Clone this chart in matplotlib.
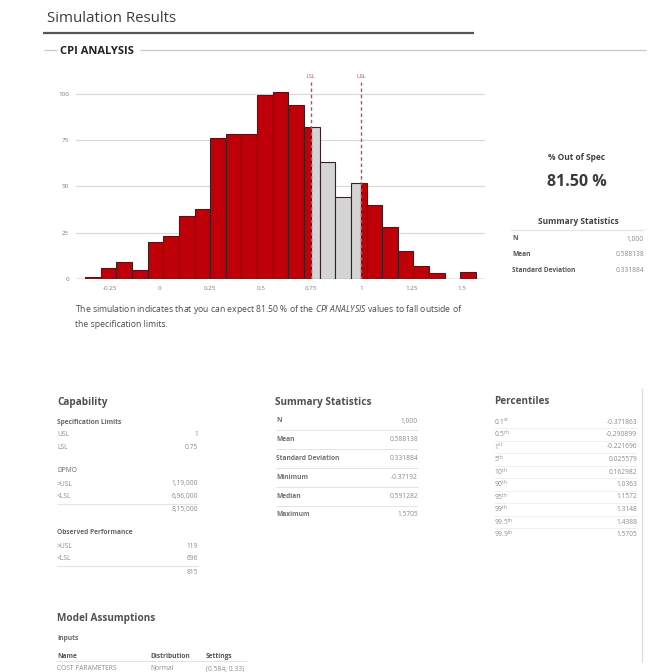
import numpy as np
import matplotlib.pyplot as plt
from matplotlib.lines import Line2D
from matplotlib.transforms import blended_transform_factory

plt.rcParams['font.family'] = ['Open Sans', 'DejaVu Sans']
plt.rcParams['mathtext.fontset'] = 'custom'
plt.rcParams['mathtext.rm'] = 'Open Sans'
plt.rcParams['mathtext.it'] = 'Open Sans:italic'
plt.rcParams['mathtext.bf'] = 'Open Sans:bold'

W, H = 651, 672

# histogram of the simulated CPI values (25 bins from min to max)
bin_counts = [1, 6, 9, 5, 20, 23, 34, 38, 76, 78, 78, 99, 101, 94,
              82, 63, 44, 52, 40, 28, 15, 7, 3, 0, 4]
data_min = -0.37192
data_max = 1.5705
lsl = 0.75
usl = 1.0
x_ticks = [-0.25, 0, 0.25, 0.5, 0.75, 1, 1.25, 1.5]
x_tick_labels = ["-0.25", "0", "0.25", "0.5", "0.75", "1", "1.25", "1.5"]
y_ticks = [0, 25, 50, 75, 100]

pct_out = "81.50 %"
side_labels = ["N", "Mean", "Standard Deviation"]
side_values = ["1,000", "0.588138", "0.331884"]

stat_labels = ["N", "Mean", "Standard Deviation", "Minimum", "Median", "Maximum"]
stat_values = ["1,000", "0.588138", "0.331884", "-0.37192", "0.591282", "1.5705"]

spec_labels = ["USL", "LSL"]
spec_values = ["1", "0.75"]
dpmo_labels = [">USL", "<LSL"]
dpmo_values = ["1,19,000", "6,96,000"]
dpmo_total = "8,15,000"
obs_labels = [">USL", "<LSL"]
obs_values = ["119", "696"]
obs_total = "815"

pct_labels = [r"0.1$^{\rm st}$", r"0.5$^{\rm th}$", r"1$^{\rm st}$", r"5$^{\rm th}$",
              r"10$^{\rm th}$", r"90$^{\rm th}$", r"95$^{\rm th}$", r"99$^{\rm th}$",
              r"99.5$^{\rm th}$", r"99.9$^{\rm th}$"]
pct_values = ["-0.371863", "-0.290899", "-0.221696", "0.025579", "0.162982",
              "1.0363", "1.1572", "1.3148", "1.4388", "1.5705"]

RED = '#c00008'
GREY_BAR = '#d4d4d4'
EDGE = '#3a2020'
TITLE_C = '#3c3c3c'
VALUE_C = '#8a8a8a'
SEP_C = '#e4e4e4'

fig = plt.figure(figsize=(W / 100, H / 100), dpi=100)


def ftext(x, y, s, **kw):
    kw.setdefault('va', 'center')
    return fig.text(x / W, 1 - y / H, s, **kw)


def fline(x0, x1, y0, y1, color, lw):
    fig.add_artist(Line2D([x0 / W, x1 / W], [1 - y0 / H, 1 - y1 / H],
                          color=color, lw=lw, solid_capstyle='butt'))


# header
ftext(47, 19, "Simulation Results", fontsize=10.8, color=TITLE_C)
fline(43, 474, 33, 33, '#555555', 1.6)
ftext(60, 51, "CPI ANALYSIS", fontsize=8, fontweight='bold', color='#222222')
fline(44, 57, 50, 50, '#c8c8c8', 0.9)
fline(140, 646, 50, 50, '#c8c8c8', 0.9)

# histogram
ax = fig.add_axes([76 / W, 1 - 279 / H, 409 / W, 197 / H])
edges = np.linspace(data_min, data_max, len(bin_counts) + 1)
for i, count in enumerate(bin_counts):
    if count == 0:
        continue
    left, right = edges[i], edges[i + 1]
    cuts = [left] + [c for c in (lsl, usl) if left < c < right] + [right]
    for a, b in zip(cuts[:-1], cuts[1:]):
        mid = (a + b) / 2
        color = GREY_BAR if lsl <= mid <= usl else RED
        ax.bar(a, count, width=b - a, align='edge', color=color,
               edgecolor=EDGE, linewidth=0.8, zorder=2)

for lim, name in [(lsl, "LSL"), (usl, "USL")]:
    ax.axvline(lim, color='#c44a5a', lw=1.0, ls=(0, (2.5, 2)), zorder=3)
    trans = blended_transform_factory(ax.transData, ax.transAxes)
    ax.text(lim, 1.015, name, transform=trans, ha='center', va='bottom',
            fontsize=4, color='#b04858')

ax.set_xlim(-0.417, 1.615)
ax.set_ylim(0, 106.2)
ax.set_yticks(y_ticks)
ax.set_xticks(x_ticks)
ax.set_xticklabels(x_tick_labels)
ax.tick_params(length=0, labelsize=4.5, colors='#7a7a7a', pad=5)
ax.yaxis.grid(True, color='#d9d9d9', lw=0.9, zorder=0)
ax.axhline(0, color='#8a8a8a', lw=1.0, zorder=1)
for sp in ax.spines.values():
    sp.set_visible(False)

ftext(75, 309, "The simulation indicates that you can expect 81.50 % of the "
      r"$\it{CPI\ ANALYSIS}$ values to fall outside of",
      fontsize=6.2, color='#4a4a4a')
ftext(75, 324, "the specification limits.", fontsize=6.2, color='#4a4a4a')

# right side panel
ftext(577, 158, "% Out of Spec", ha='center', fontsize=6, fontweight='bold', color='#404040')
ftext(577, 182, pct_out, ha='center', fontsize=11.5, fontweight='bold', color='#3a3a3a')
ftext(578, 222, "Summary Statistics", ha='center', fontsize=6, fontweight='bold', color='#404040')
fline(510, 644, 230, 230, SEP_C, 0.9)
for k, (lab, val) in enumerate(zip(side_labels, side_values)):
    y = 239 + k * 16
    ftext(512, y, lab, fontsize=4.8, fontweight='bold', color='#555555')
    ftext(644, y, val, ha='right', fontsize=4.8, color=VALUE_C)

# capability table
ftext(57, 402, "Capability", fontsize=7.2, fontweight='bold', color='#505050')
ftext(57, 422, "Specification Limits", fontsize=4.8, fontweight='bold', color='#666666')
for k, (lab, val) in enumerate(zip(spec_labels, spec_values)):
    ftext(57, 435 + k * 12.5, lab, fontsize=4.8, color=VALUE_C)
    ftext(198, 435 + k * 12.5, val, ha='right', fontsize=4.8, color=VALUE_C)

ftext(57, 470, "DPMO", fontsize=4.8, color='#666666')
for k, (lab, val) in enumerate(zip(dpmo_labels, dpmo_values)):
    ftext(57, 484 + k * 12.5, lab, fontsize=4.8, color=VALUE_C)
    ftext(198, 484 + k * 12.5, val, ha='right', fontsize=4.8, color=VALUE_C)
fline(57, 198, 503.5, 503.5, SEP_C, 0.8)
ftext(198, 510, dpmo_total, ha='right', fontsize=4.8, color=VALUE_C)

ftext(57, 533, "Observed Performance", fontsize=4.8, fontweight='bold', color='#666666')
for k, (lab, val) in enumerate(zip(obs_labels, obs_values)):
    ftext(57, 546 + k * 12.5, lab, fontsize=4.8, color=VALUE_C)
    ftext(198, 546 + k * 12.5, val, ha='right', fontsize=4.8, color=VALUE_C)
fline(57, 198, 565.5, 565.5, SEP_C, 0.8)
ftext(198, 573, obs_total, ha='right', fontsize=4.8, color=VALUE_C)

# summary statistics table
ftext(275, 402, "Summary Statistics", fontsize=7.2, fontweight='bold', color='#505050')
for k, (lab, val) in enumerate(zip(stat_labels, stat_values)):
    y = 421 + k * 18.8
    ftext(276, y, lab, fontsize=4.8, fontweight='bold', color='#707070')
    ftext(418, y, val, ha='right', fontsize=4.8, color=VALUE_C)
    if k < len(stat_labels) - 1:
        fline(276, 418, y + 9.4, y + 9.4, SEP_C, 0.7)

# percentiles table
ftext(494, 402, "Percentiles", fontsize=7.2, fontweight='bold', color='#505050')
for k, (lab, val) in enumerate(zip(pct_labels, pct_values)):
    y = 422 + k * 12.5
    ftext(494, y, lab, fontsize=4.8, color=VALUE_C)
    ftext(637, y, val, ha='right', fontsize=4.8, color=VALUE_C)
    if k < len(pct_labels) - 1:
        fline(494, 637, y + 6.25, y + 6.25, '#eeeeee', 0.6)
fline(642, 642, 388, 662, '#dddddd', 0.9)

# model assumptions
ftext(57, 618, "Model Assumptions", fontsize=7.2, fontweight='bold', color='#505050')
ftext(57, 639, "Inputs", fontsize=4.8, fontweight='bold', color='#666666')
ftext(57, 656, "Name", fontsize=4.8, fontweight='bold', color='#555555')
ftext(150, 656, "Distribution", fontsize=4.8, fontweight='bold', color='#555555')
ftext(206, 656, "Settings", fontsize=4.8, fontweight='bold', color='#555555')
fline(57, 247, 661, 661, SEP_C, 0.8)
ftext(57, 669, "COST PARAMETERS", fontsize=4.8, color=VALUE_C)
ftext(150, 669, "Normal", fontsize=4.8, color=VALUE_C)
ftext(206, 669, "(0.584; 0.33)", fontsize=4.8, color=VALUE_C)

fig.savefig("out.png", dpi=100, facecolor='white')
